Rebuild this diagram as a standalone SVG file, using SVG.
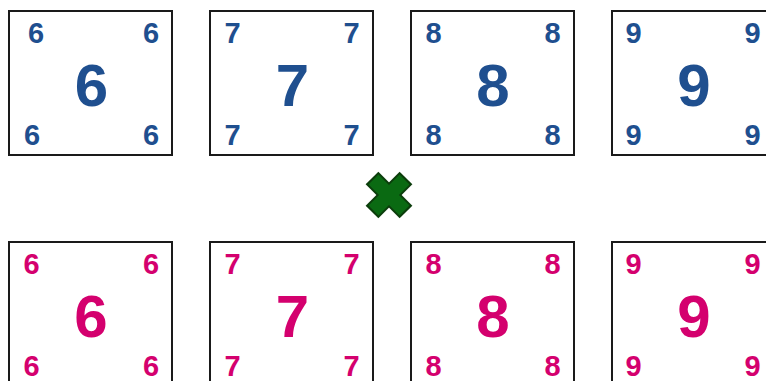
<svg xmlns="http://www.w3.org/2000/svg" width="766" height="381" viewBox="0 0 766 381">
<style>
.card{fill:#fff;stroke:#1a1a1a;stroke-width:2}
text{font-family:"Liberation Sans",Arial,sans-serif;font-weight:bold;text-anchor:middle}
.s{font-size:29px}
.b{font-size:60px}
.blue{fill:#1f4f8f}
.pink{fill:#d4006e}
</style>
<rect width="766" height="381" fill="#fff"/>
<g id="card-6-top" class="blue">
<rect class="card" x="9" y="11" width="163" height="144"/>
<text class="s" x="36" y="42.5">6</text><text class="s" x="151" y="42.5">6</text>
<text class="b" x="91.5" y="106">6</text>
<text class="s" x="32" y="145">6</text><text class="s" x="151" y="145">6</text>
</g>
<g id="card-7-top" class="blue">
<rect class="card" x="210" y="11" width="163" height="144"/>
<text class="s" x="232.5" y="42.5">7</text><text class="s" x="351.5" y="42.5">7</text>
<text class="b" x="292.5" y="106">7</text>
<text class="s" x="232.5" y="145">7</text><text class="s" x="351.5" y="145">7</text>
</g>
<g id="card-8-top" class="blue">
<rect class="card" x="411" y="11" width="163" height="144"/>
<text class="s" x="433.5" y="42.5">8</text><text class="s" x="552.5" y="42.5">8</text>
<text class="b" x="493" y="106">8</text>
<text class="s" x="433.5" y="145">8</text><text class="s" x="552.5" y="145">8</text>
</g>
<g id="card-9-top" class="blue">
<rect class="card" x="612" y="11" width="163" height="144"/>
<text class="s" x="633.5" y="42.5">9</text><text class="s" x="752.5" y="42.5">9</text>
<text class="b" x="694" y="106">9</text>
<text class="s" x="633.5" y="145">9</text><text class="s" x="752.5" y="145">9</text>
</g>
<g id="card-6-bottom" class="pink">
<rect class="card" x="9" y="242" width="163" height="144"/>
<text class="s" x="31.5" y="273.5">6</text><text class="s" x="151" y="273.5">6</text>
<text class="b" x="91" y="337">6</text>
<text class="s" x="31.5" y="375.5">6</text><text class="s" x="151" y="375.5">6</text>
</g>
<g id="card-7-bottom" class="pink">
<rect class="card" x="210" y="242" width="163" height="144"/>
<text class="s" x="232.5" y="273.5">7</text><text class="s" x="351.5" y="273.5">7</text>
<text class="b" x="292.5" y="337">7</text>
<text class="s" x="232.5" y="375.5">7</text><text class="s" x="351.5" y="375.5">7</text>
</g>
<g id="card-8-bottom" class="pink">
<rect class="card" x="411" y="242" width="163" height="144"/>
<text class="s" x="433.5" y="273.5">8</text><text class="s" x="552.5" y="273.5">8</text>
<text class="b" x="493" y="337">8</text>
<text class="s" x="433.5" y="375.5">8</text><text class="s" x="552.5" y="375.5">8</text>
</g>
<g id="card-9-bottom" class="pink">
<rect class="card" x="612" y="242" width="163" height="144"/>
<text class="s" x="633.5" y="273.5">9</text><text class="s" x="752.5" y="273.5">9</text>
<text class="b" x="694" y="337">9</text>
<text class="s" x="633.5" y="375.5">9</text><text class="s" x="752.5" y="375.5">9</text>
</g>
<g id="cross">
<g stroke="#0b3d0b" stroke-width="18" stroke-linecap="butt">
<line x1="372" y1="178" x2="406" y2="212"/><line x1="406" y1="178" x2="372" y2="212"/>
</g>
<g stroke="#0a6a12" stroke-width="14" stroke-linecap="butt">
<line x1="373.5" y1="179.5" x2="404.5" y2="210.5"/><line x1="404.5" y1="179.5" x2="373.5" y2="210.5"/>
</g>
</g>
</svg>
